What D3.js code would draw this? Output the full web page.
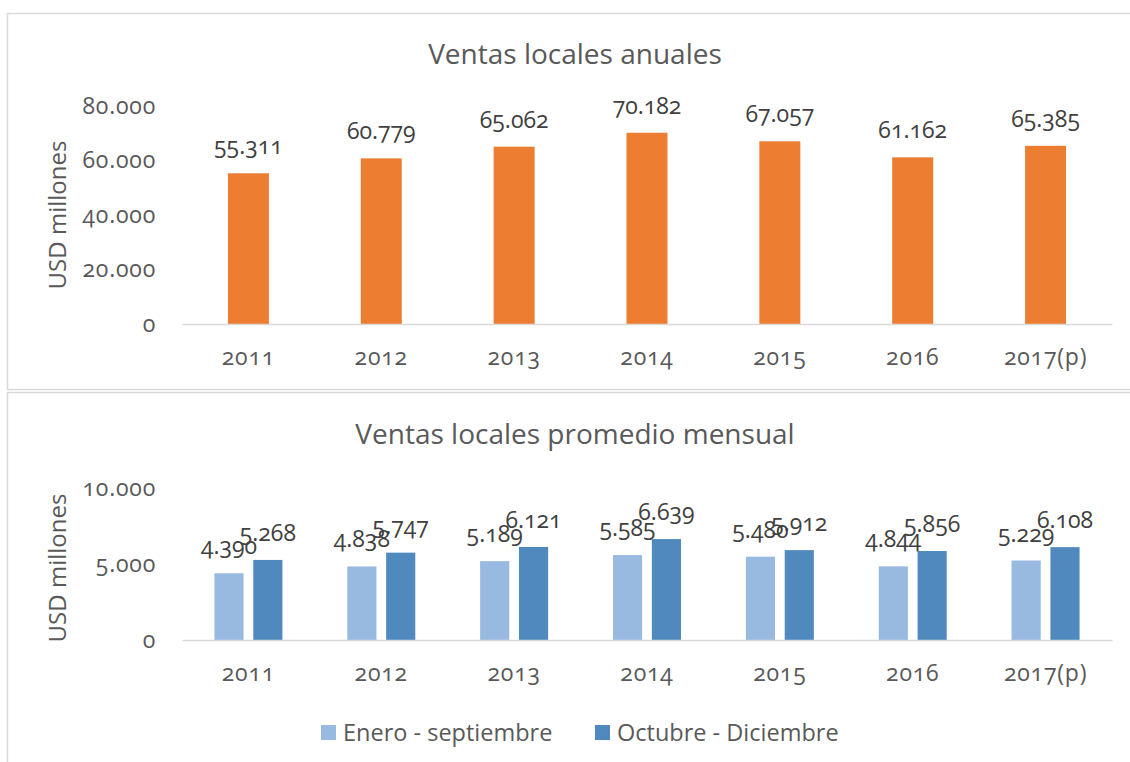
<!DOCTYPE html>
<html><head><meta charset="utf-8">
<script src="https://cdn.jsdelivr.net/npm/d3@7"></script>
<style>
body{margin:0;background:#fff;}
svg{display:block;font-family:"Open Sans",sans-serif;}
.num{font-variant-numeric:oldstyle-nums;font-feature-settings:"onum" 1;}
</style></head><body>
<svg id="c" width="1130" height="762"></svg>
<script>
const categories = ["2011","2012","2013","2014","2015","2016","2017(p)"];
const annualValues = [55311,60779,65062,70182,67057,61162,65385];
const seriesNames = ["Enero - septiembre","Octubre - Diciembre"];
const eneroSep = [4390,4838,5189,5585,5480,4844,5229];
const octDic = [5268,5747,6121,6639,5912,5856,6108];
const annualTicks = [0,20000,40000,60000,80000];
const monthlyTicks = [0,5000,10000];

const fmt = v => d3.format(",")(v).replace(/,/g,".");
const svg = d3.select("#c");
const borderC = "#d9d9d9", textC = "#595959", labelC = "#404040";
const orange = "#ED7D31", light = "#98B9E0", dark = "#4F89BD";

// panel borders
svg.append("rect").attr("x",7.5).attr("y",13.5).attr("width",1140).attr("height",376).attr("fill","none").attr("stroke",borderC).attr("stroke-width",1.5);
svg.append("rect").attr("x",7.5).attr("y",392.5).attr("width",1140).attr("height",400).attr("fill","none").attr("stroke",borderC).attr("stroke-width",1.5);

const x = d3.scaleBand().domain(categories).range([182,1112]).paddingInner(0).paddingOuter(0);

function yAxis(g, y, ticks){
  const ax = g.append("g").attr("transform","translate(156,0)")
    .call(d3.axisLeft(y).tickValues(ticks).tickFormat(fmt).tickSize(0).tickPadding(0));
  ax.select(".domain").remove();
  ax.selectAll("text").attr("class","num").attr("fill",textC).attr("font-size",23).attr("letter-spacing","0.8px").attr("font-family","Open Sans").attr("dy","0.32em");
}
function xAxis(g, yPos, labelY){
  const ax = g.append("g").attr("transform",`translate(0,${yPos})`)
    .call(d3.axisBottom(x).tickSize(0).tickPadding(labelY));
  ax.select(".domain").attr("stroke",borderC).attr("stroke-width",1.5);
  ax.selectAll("text").attr("class","num").attr("fill",textC).attr("font-size",23).attr("letter-spacing","0.8px").attr("font-family","Open Sans");
}

// ---- Top chart
const yTop = d3.scaleLinear().domain([0,80000]).range([324,106]);
const gTop = svg.append("g");
gTop.append("text").attr("x",575).attr("y",64).attr("text-anchor","middle").attr("fill",textC).attr("font-size",28).text("Ventas locales anuales");
gTop.append("text").attr("transform","translate(66,215) rotate(-90)").attr("text-anchor","middle").attr("fill",textC).attr("font-size",24).text("USD millones");
yAxis(gTop, yTop, annualTicks);
const bw = 41;
gTop.selectAll("rect.b").data(annualValues).join("rect")
  .attr("x",(d,i)=>x(categories[i])+x.bandwidth()/2-bw/2).attr("width",bw)
  .attr("y",d=>yTop(d)).attr("height",d=>yTop(0)-yTop(d)).attr("fill",orange);
gTop.selectAll("text.l").data(annualValues).join("text").attr("class","num")
  .attr("x",(d,i)=>x(categories[i])+x.bandwidth()/2).attr("y",d=>yTop(d)-19)
  .attr("text-anchor","middle").attr("fill",labelC).attr("font-size",23).text(d=>fmt(d));
xAxis(gTop, 324, 25);

// ---- Bottom chart
const yBot = d3.scaleLinear().domain([0,10000]).range([640,488]);
const gBot = svg.append("g");
gBot.append("text").attr("x",575).attr("y",444).attr("text-anchor","middle").attr("fill",textC).attr("font-size",28).text("Ventas locales promedio mensual");
gBot.append("text").attr("transform","translate(66,568) rotate(-90)").attr("text-anchor","middle").attr("fill",textC).attr("font-size",24).text("USD millones");
yAxis(gBot, yBot, monthlyTicks);
const xs = d3.scaleBand().domain(seriesNames).range([-34,34]).paddingInner(0.25);
const series = [eneroSep, octDic];
const colors = [light, dark];
series.forEach((vals,s)=>{
  gBot.selectAll(`rect.s${s}`).data(vals).join("rect").attr("class",`s${s}`)
    .attr("x",(d,i)=>x(categories[i])+x.bandwidth()/2+xs(seriesNames[s])).attr("width",xs.bandwidth())
    .attr("y",d=>yBot(d)).attr("height",d=>yBot(0)-yBot(d)).attr("fill",colors[s]);
});
series.forEach((vals,s)=>{
  gBot.selectAll(`text.t${s}`).data(vals).join("text").attr("class",`t${s} num`)
    .attr("x",(d,i)=>x(categories[i])+x.bandwidth()/2+xs(seriesNames[s])+xs.bandwidth()/2).attr("y",d=>yBot(d)-19)
    .attr("text-anchor","middle").attr("fill",labelC).attr("font-size",23).text(d=>fmt(d));
});
xAxis(gBot, 640, 25);

// legend
const legX = [321, 595];
seriesNames.forEach((n,i)=>{
  svg.append("rect").attr("x",legX[i]).attr("y",725).attr("width",15).attr("height",15).attr("fill",colors[i]);
  svg.append("text").attr("x",legX[i]+22).attr("y",741).attr("fill",textC).attr("font-size",23.5).text(n);
});
</script></body></html>
